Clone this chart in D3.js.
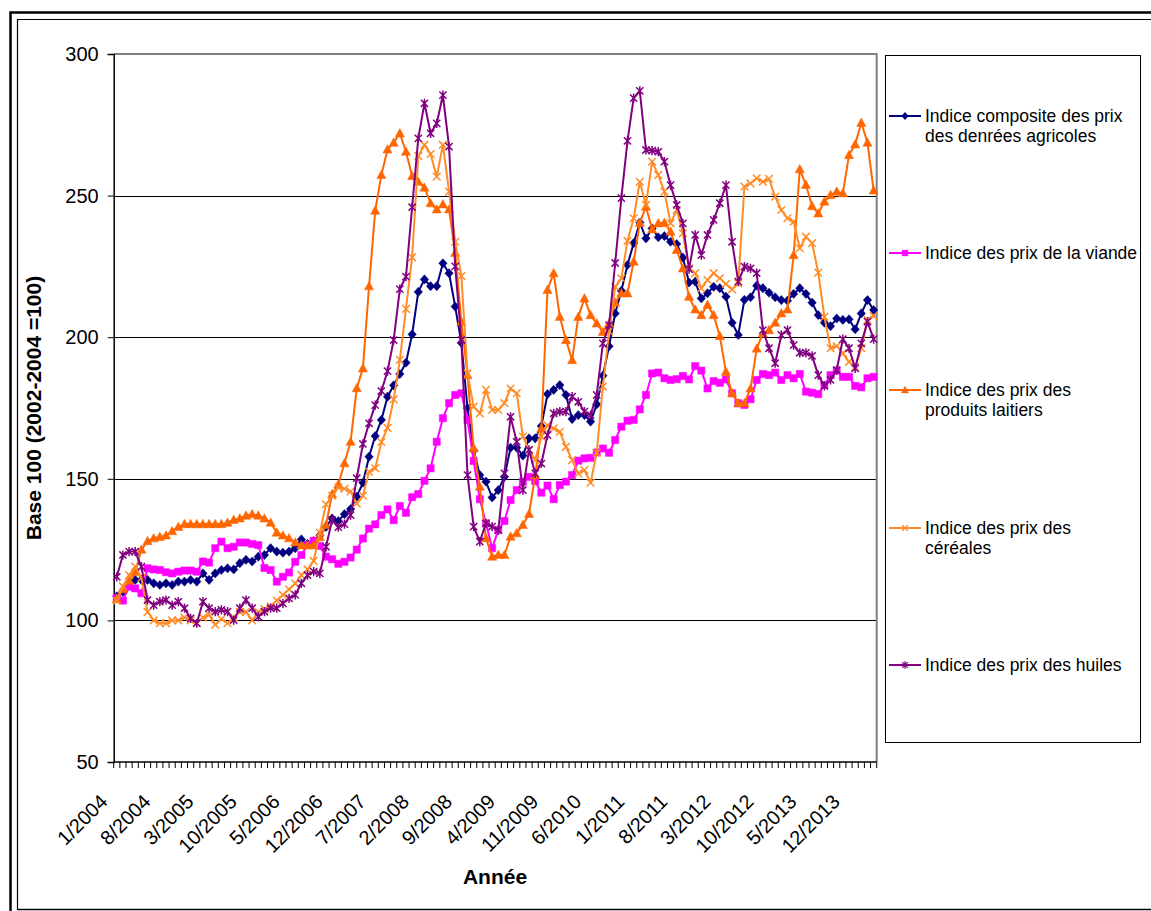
<!DOCTYPE html>
<html>
<head>
<meta charset="utf-8">
<script src="https://cdn.jsdelivr.net/npm/d3@7/dist/d3.min.js"></script>
<style>
  html, body { margin: 0; padding: 0; background: #fff; }
  svg { display: block; font-family: "Liberation Sans", Arial, sans-serif; }
</style>
</head>
<body>
<svg id="chart" width="1151" height="911"></svg>
<script>
// Monthly categories, January 2004 to April 2014
const months = [];
for (let yr = 2004; yr <= 2014; yr++) {
  for (let m = 1; m <= 12; m++) {
    if (yr === 2014 && m > 4) break;
    months.push(m + "/" + yr);
  }
}
const tickLabels = ["1/2004","8/2004","3/2005","10/2005","5/2006","12/2006","7/2007","2/2008",
  "9/2008","4/2009","11/2009","6/2010","1/2011","8/2011","3/2012","10/2012","5/2013","12/2013"];
const yTicks = [50, 100, 150, 200, 250, 300];

// Indices (base 100 = 2002-2004)
const composite = [108.5,110.1,113,114.3,114.3,114.3,113.1,112.5,113.1,112.5,113.7,113.7,114.3,113.7,116.6,114.3,
  116.6,117.8,118.4,118,120.2,121.4,120.8,122.5,123.1,125.5,124.3,123.9,124.3,125.5,128.6,127,128,130,133,136,
  135.1,137.5,139.3,143.7,148.6,157.8,165.1,170.8,179,183,187,191,201,216,220.4,218,218,226.1,222.6,210.8,
  198,174.9,160,151.3,149,143.4,146,150.7,161,161,158.2,164.3,164.3,168.6,179.9,181.4,183.1,179.6,171.1,172.5,
  172.5,170.2,176.3,186.4,196.8,208.4,216.4,225.5,233.2,240.5,234.9,238.4,235.3,235.7,233.7,232.9,228.1,219.3,
  219.6,213.7,215.5,217.8,217.3,214.3,205.1,200.8,213.2,214.1,218.2,217.3,215.7,214.1,213.1,212.9,215.3,217.3,
  215.3,212.2,207.8,205.1,203.9,206.6,206.1,206.3,202.8,208.4,213.1,209.6];
const meat = [108,107,111.9,111.3,109.6,118.4,118,117.8,117,116.6,117.2,117.6,117.6,117.2,120.8,120.4,125.5,127.8,
  125.5,126,127.5,127.5,127,126.6,118.5,117.8,113.7,115.4,116.9,120.7,123.1,126.6,128.1,126.3,122.5,121.6,120,
  120.7,122.2,125,128.9,132.4,133.9,137.2,139.2,135.4,140.4,138,143.5,144.6,149.3,153.7,163.1,171.4,176.7,179.6,
  180.2,170.8,156.3,142.8,134.3,125.5,131.9,135.1,142.5,146,149,150.7,149.2,145.1,147.6,142.8,147.8,149,151.3,
  156.4,157.2,157.4,159.3,160.7,159.2,163.7,168.4,170.5,170.8,174.5,179.6,187.2,187.5,185.5,184.9,185.2,186.3,
  185.1,189.8,188.2,181.9,184.5,183.9,185.1,180.2,176.7,176.1,178.1,184.9,187,186.6,187.5,184.9,186.6,185.5,187,
  180.8,180.4,179.9,183.1,186.6,188.2,186,186,182.8,182.3,185.5,186];
const dairy = [107.5,111,114,117,125,128,129,129.5,130,131.5,133,134,134,134,134,134,134,134,134.5,135.5,136,137,
  137.5,137,136,134.5,131,130,129,127.5,126.5,126.5,126.5,129.4,133.7,144.6,148,155.5,163.1,182,189,218,244.7,
  257.3,266.3,268.7,272,265.5,256.9,254.9,252.8,247.3,245.1,246.9,245.1,229.8,205.5,186.6,160.8,147.2,129,122.5,
  123.1,123.1,129.6,130.8,133.7,137.6,151.3,167.8,216.7,222.6,207.2,199,191.9,207.2,213.7,207.8,204.9,201.9,204.9,
  212.2,215.5,215.5,226.7,240.4,246.1,238.1,240.2,240.4,237.3,230.8,224.3,214.3,209.8,207.8,211.4,207.8,200.4,
  187.8,180.2,176.7,176.7,181.9,196,201.4,202.5,205.1,208.4,209.8,229,259.3,253.8,246.3,243.7,247.9,250.2,251.4,
  250.8,264.3,268.1,275.7,268.7,251.8];
const cereals = [107,112,116,119,115,103,100,99,99,100,100,101,100,99,101,102,98.5,100.5,99,101,103,103,100,103,
  104,105,107,109,111,113,116,118,121,131,141,144,147,146.5,145.5,141.3,144,152.5,153.7,163,168,178,192,210,228.2,
  264,267.9,264.7,256.7,267.9,251.4,233.7,221.6,187.2,175.5,173.1,181.4,174.3,174.3,176.7,181.9,180.2,164.9,
  160.2,156.6,164.9,168.9,167.8,166.6,161.3,156.6,151.9,153.1,148.6,159.2,182.6,202,217.8,220.8,234,242,254.9,
  246.7,262,257.3,251.4,240.2,244.9,236.7,224.3,222.6,217.3,220.2,222.6,220.8,218.8,216.9,219,253.2,254.3,256.1,
  254.9,255.9,249.6,244.9,242,240.8,231.4,235.5,233.2,222.8,207.2,196.1,196.9,194.3,191.3,189.4,196.1,206.1,207.5];
const oils = [115.4,123.1,124.3,124.3,119,107.2,105.4,106.6,107.2,105.4,106.6,104.3,100.7,99,106.6,104.3,103.1,
  103.7,103.1,100.1,104.3,107.2,104.3,101.3,103.1,104.3,104.3,106,107.8,109,113.1,116,117.2,116.6,126,135.4,132.9,
  134,137.2,150.2,162.3,169.6,176,181,188,199,217,221.4,245.9,270.2,282.6,272,275.5,285.5,267.3,225,199,151.3,
  133.1,127.8,134.3,133.1,131.9,151.9,171.9,163.1,146,160.2,151.9,155.4,165.4,173.1,173.7,173.7,179,177.2,173.7,
  172.5,179.6,197.8,204.3,226.2,249.1,269.3,284.4,287,266.1,265.9,265.5,262,253.7,246.7,240.2,224,236.1,229,
  236.1,241.4,247.3,253.7,233.7,219.6,224.9,224.3,222.6,202.5,196.1,190.8,200.8,202.5,197.2,194.5,194.5,193.4,
  186.6,182.8,184.9,188.4,199.3,196.1,189,197.8,205.5,199.3];

const seriesNames = ["Indice composite des prix|des denrées agricoles", "Indice des prix de la viande",
  "Indice des prix des|produits laitiers", "Indice des prix des|céréales", "Indice des prix des huiles"];
const seriesValues = [composite, meat, dairy, cereals, oils];
const seriesColors = ["#000080", "#FF00FF", "#FF6600", "#FF8C26", "#800080"];
const seriesMarkers = ["diamond", "square", "triangle", "cross", "star"];

const markerPaths = {
  diamond: "M0,-4.6L4.2,0L0,4.6L-4.2,0Z",
  square: "M-3.6,-3.6H3.6V3.6H-3.6Z",
  triangle: "M0,-4.8L4.6,3.6H-4.6Z",
  cross: "M-3.8,-3.8L3.8,3.8M-3.8,3.8L3.8,-3.8",
  star: "M-3.6,-3.6L3.6,3.6M-3.6,3.6L3.6,-3.6M0,-4.6V4.6"
};
const filled = { diamond: true, square: true, triangle: true, cross: false, star: false };

const svg = d3.select("#chart");

// Chart frame
svg.append("path").attr("d", "M10.5,1000V12.5H1200").attr("fill", "none").attr("stroke", "#000").attr("stroke-width", 2.5);
svg.append("path").attr("d", "M17.5,909.5V19.5H1200").attr("fill", "none").attr("stroke", "#000").attr("stroke-width", 1.2);
svg.append("line").attr("x1", 17).attr("x2", 1151).attr("y1", 909.5).attr("y2", 909.5).attr("stroke", "#000").attr("stroke-width", 1.5);

const x = d3.scaleBand().domain(months).range([113.7, 876.7]).padding(0);
const y = d3.scaleLinear().domain([50, 300]).range([762, 54]);
const cx = d => x(d) + x.bandwidth() / 2;

// Horizontal gridlines
svg.append("g").selectAll("line").data(yTicks.filter(v => v > 50 && v < 300)).join("line")
  .attr("x1", 113.7).attr("x2", 876.7)
  .attr("y1", d => Math.round(y(d)) + 0.5).attr("y2", d => Math.round(y(d)) + 0.5)
  .attr("stroke", "#000").attr("stroke-width", 1);

// Plot area border (top and right)
svg.append("path").attr("d", `M113.7,${y(300)}H${876.7}V${y(50)}`)
  .attr("fill", "none").attr("stroke", "#808080").attr("stroke-width", 2);

// Y axis
const yAxis = d3.axisLeft(y).tickValues(yTicks).tickSize(6).tickPadding(9);
const gy = svg.append("g").attr("transform", "translate(113.7,0)").call(yAxis);
gy.select(".domain").attr("stroke", "#000").attr("stroke-width", 1.5);
gy.selectAll(".tick line").attr("stroke", "#000");
gy.selectAll("text").attr("font-size", 20).attr("fill", "#000").attr("font-family", "Liberation Sans, Arial, sans-serif");

// X axis: boundary ticks for every month, labels every seventh month
const gx = svg.append("g");
gx.append("line").attr("x1", 113.7).attr("x2", 876.7).attr("y1", 762).attr("y2", 762)
  .attr("stroke", "#000").attr("stroke-width", 1.5);
gx.selectAll("line.tk").data(months.concat(["end"])).join("line").attr("class", "tk")
  .attr("x1", (d, i) => i < months.length ? x(d) : 876.7)
  .attr("x2", (d, i) => i < months.length ? x(d) : 876.7)
  .attr("y1", 762).attr("y2", 768).attr("stroke", "#000").attr("stroke-width", 1);
gx.selectAll("text").data(tickLabels).join("text")
  .attr("transform", d => `translate(${cx(d) - 8},803) rotate(-45)`)
  .attr("text-anchor", "end").attr("font-size", 20).attr("fill", "#000")
  .text(d => d);

// Axis titles
svg.append("text").attr("x", 495).attr("y", 884).attr("text-anchor", "middle")
  .attr("font-size", 21).attr("font-weight", "bold").text("Année");
svg.append("text").attr("transform", "translate(41,408) rotate(-90)").attr("text-anchor", "middle")
  .attr("font-size", 21).attr("font-weight", "bold").text("Base 100 (2002-2004 =100)");

// Series
const line = d3.line().x((d, i) => cx(months[i])).y(d => y(d));
seriesValues.forEach((vals, k) => {
  const g = svg.append("g");
  const col = seriesColors[k], mk = seriesMarkers[k];
  g.append("path").datum(vals).attr("d", line).attr("fill", "none")
    .attr("stroke", col).attr("stroke-width", 2).attr("stroke-linejoin", "round");
  g.selectAll("path.m").data(vals).join("path").attr("class", "m")
    .attr("transform", (d, i) => `translate(${cx(months[i])},${y(d)})`)
    .attr("d", markerPaths[mk])
    .attr("fill", filled[mk] ? col : "none")
    .attr("stroke", col).attr("stroke-width", filled[mk] ? 0.5 : 1.5);
});

// Legend
const lg = svg.append("g");
lg.append("rect").attr("x", 885.5).attr("y", 55.5).attr("width", 255).attr("height", 687)
  .attr("fill", "#fff").attr("stroke", "#000").attr("stroke-width", 1);
const legendY = [116, 253, 390, 528, 665];
seriesNames.forEach((name, k) => {
  const yy = legendY[k];
  const col = seriesColors[k], mk = seriesMarkers[k];
  lg.append("line").attr("x1", 889).attr("x2", 921).attr("y1", yy).attr("y2", yy)
    .attr("stroke", col).attr("stroke-width", 2);
  lg.append("path").attr("transform", `translate(905,${yy}) scale(0.8)`).attr("d", markerPaths[mk])
    .attr("fill", filled[mk] ? col : "none").attr("stroke", col).attr("stroke-width", filled[mk] ? 0.5 : 1.6);
  const t = lg.append("text").attr("x", 925).attr("y", yy + 6).attr("font-size", 17.5).attr("fill", "#000");
  name.split("|").forEach((part, j) => {
    t.append("tspan").attr("x", 925).attr("dy", j === 0 ? 0 : 20).text(part);
  });
});
</script>
</body>
</html>
